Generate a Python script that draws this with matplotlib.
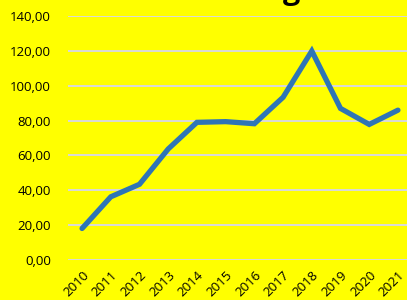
import matplotlib
matplotlib.use("Agg")
import matplotlib.pyplot as plt

years = ["2010", "2011", "2012", "2013", "2014", "2015", "2016", "2017", "2018", "2019", "2020", "2021"]
values = [18.0, 36.2, 43.4, 63.7, 79.0, 79.4, 78.2, 93.4, 120.0, 87.0, 77.8, 86.0]
yticks = [0, 20, 40, 60, 80, 100, 120, 140]
ytick_labels = ["0,00", "20,00", "40,00", "60,00", "80,00", "100,00", "120,00", "140,00"]

plt.rcParams['font.family'] = ['Open Sans', 'DejaVu Sans']

fig = plt.figure(figsize=(4.07, 3.0), dpi=100, facecolor="#FFFF00")
ax = fig.add_axes([67.7/407, 40.2/300, (412.3-67.7)/407, (259.8-16.2)/300])
ax.set_facecolor("#FFFF00")

x = list(range(len(years)))
ax.plot(x, values, color="#2E75B6", linewidth=3.8, solid_capstyle="round", solid_joinstyle="miter", zorder=3)

ax.set_xlim(-0.5, len(years) - 0.5)
ax.set_ylim(0, 140)
ax.set_yticks(yticks)
ax.set_yticklabels(ytick_labels)
ax.set_xticks(x)
ax.set_xticklabels(years, rotation=45, ha="right", va="top", rotation_mode="anchor")
ax.grid(axis="y", color="#D9D9D9", linewidth=1.4)
ax.set_axisbelow(True)
for s in ax.spines.values():
    s.set_visible(False)
ax.tick_params(axis="both", length=0, labelsize=9.5, colors="black")
ax.tick_params(axis="x", labelsize=9.5)
ax.tick_params(axis="y", pad=12)
ax.tick_params(axis="x", pad=6)

fig.text(300/407, 1 + 1/300, "g", fontsize=22, fontweight="bold", ha="right", va="baseline", color="black")

fig.savefig("out.png", dpi=100, facecolor=fig.get_facecolor())
